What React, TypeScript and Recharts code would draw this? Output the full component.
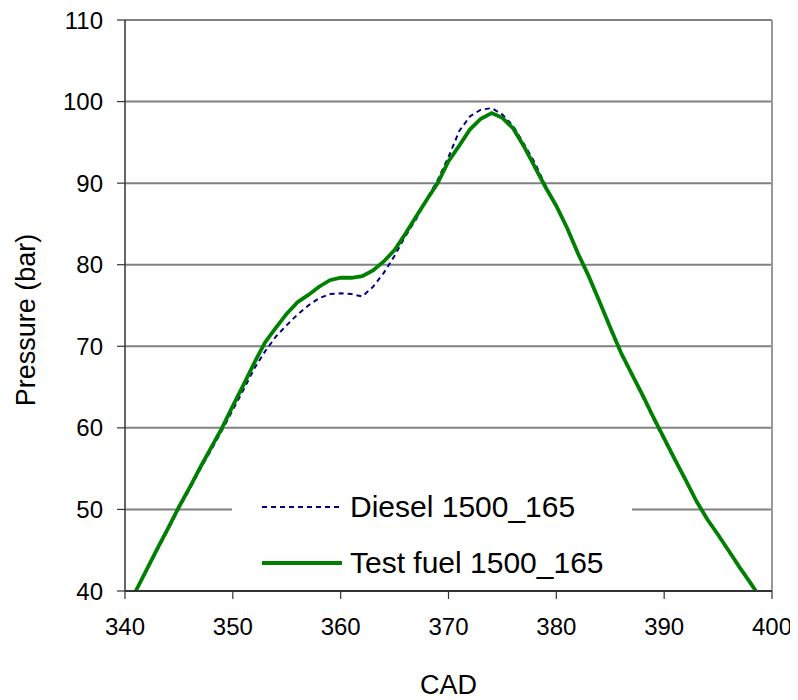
import React from "react";
import {
  CartesianGrid,
  Legend,
  Line,
  LineChart,
  ReferenceLine,
  XAxis,
  YAxis
} from "recharts";

// crank angle (deg) and cylinder pressure (bar)
const cad = [
  341, 342, 343, 344, 345, 346, 347, 348, 349, 350,
  351, 352, 353, 354, 355, 356, 357, 358, 359, 360,
  361, 362, 363, 364, 365, 366, 367, 368, 369, 370,
  371, 372, 373, 374, 375, 376, 377, 378, 379, 380,
  381, 382, 383, 384, 385, 386, 387, 388, 389, 390,
  391, 392, 393, 394, 395, 396, 397, 398, 398.5
];

const diesel = [
  40.0, 42.5, 45.0, 47.5, 50.1, 52.5, 55.0, 57.3, 59.7, 62.2,
  64.7, 67.3, 69.4, 71.2, 72.6, 73.9, 75.0, 75.9, 76.4, 76.5,
  76.4, 76.1, 77.3, 79.0, 81.1, 83.5, 85.6, 88.1, 90.4, 93.2,
  96.4, 98.2, 99.0, 99.2, 98.4, 97.0, 94.8, 92.5, 89.7, 87.2,
  84.4, 81.3, 78.5, 75.4, 72.1, 69.0, 66.5, 63.8, 61.1, 58.5,
  56.0, 53.5, 50.9, 48.7, 46.8, 44.8, 42.8, 40.9, 40.0
];

const testFuel = [
  40.0, 42.6, 45.2, 47.7, 50.3, 52.7, 55.2, 57.6, 60.0, 62.7,
  65.3, 68.0, 70.5, 72.3, 74.0, 75.4, 76.3, 77.3, 78.1, 78.4,
  78.4, 78.6, 79.3, 80.4, 81.8, 83.8, 85.9, 88.0, 90.0, 92.7,
  94.6, 96.6, 97.9, 98.6, 98.0, 96.7, 94.5, 92.0, 89.5, 87.2,
  84.5, 81.4, 78.6, 75.5, 72.3, 69.2, 66.6, 64.0, 61.3, 58.7,
  56.1, 53.6, 51.0, 48.8, 46.9, 44.9, 42.9, 41.0, 40.0
];

const xTicks = [340, 350, 360, 370, 380, 390, 400];
const yTicks = [40, 50, 60, 70, 80, 90, 100, 110];

const series = [
  { key: "diesel", name: "Diesel 1500_165", color: "#000080", width: 2, dash: "5 4" },
  { key: "testFuel", name: "Test fuel 1500_165", color: "#008000", width: 3.8, dash: undefined }
];

const data = cad.map((c, i) => ({ cad: c, diesel: diesel[i], testFuel: testFuel[i] }));

const font = "'Liberation Sans', Arial, sans-serif";

function renderLegend() {
  return (
    <div style={{ background: "#fff", width: 400, height: 110, fontFamily: font }}>
      {series.map((s, i) => (
        <div
          key={s.key}
          style={{
            position: "absolute",
            left: 30,
            top: i === 0 ? 27 - 20 : 83 - 20,
            height: 40,
            display: "flex",
            alignItems: "center",
            whiteSpace: "nowrap"
          }}
        >
          <svg width={80} height={10} style={{ display: "block" }}>
            <line
              x1={0}
              y1={5}
              x2={80}
              y2={5}
              stroke={s.color}
              strokeWidth={s.width}
              strokeDasharray={s.dash}
            />
          </svg>
          <span style={{ marginLeft: 8, fontSize: 30, color: "#000", lineHeight: "40px" }}>{s.name}</span>
        </div>
      ))}
    </div>
  );
}

function PressureLabel() {
  return (
    <text
      x={27}
      y={312}
      transform="rotate(-90 27 312)"
      textAnchor="middle"
      fontSize={27}
      fill="#000"
      fontFamily={font}
    >
      Pressure (bar)
    </text>
  );
}

export default function App() {
  return (
    <div style={{ width: 790, height: 692, fontFamily: font }}>
      <LineChart
        width={790}
        height={692}
        data={data}
        margin={{ top: 12, right: 26, bottom: 0, left: 0 }}
      >
        <CartesianGrid horizontal vertical={false} stroke="#808080" strokeWidth={2} />
        <ReferenceLine x={400} stroke="#999999" strokeWidth={2} />
        <XAxis
          type="number"
          dataKey="cad"
          domain={[340, 400]}
          ticks={xTicks}
          interval={0}
          height={109}
          tickSize={8}
          tickMargin={19}
          axisLine={{ stroke: "#333333", strokeWidth: 2 }}
          tickLine={{ stroke: "#333333", strokeWidth: 1.2 }}
          tick={{ fill: "#000", fontSize: 24, fontFamily: font }}
          label={{ value: "CAD", position: "insideBottom", offset: 6, fontSize: 27, fill: "#000", fontFamily: font }}
        />
        <YAxis
          type="number"
          domain={[40, 110]}
          ticks={yTicks}
          interval={0}
          width={117}
          tickSize={8}
          tickMargin={14}
          axisLine={{ stroke: "#333333", strokeWidth: 1.5 }}
          tickLine={{ stroke: "#333333", strokeWidth: 1.2 }}
          tick={{ fill: "#000", fontSize: 24, fontFamily: font }}
          label={() => <PressureLabel />}
        />
        {series.map((s) => (
          <Line
            key={s.key}
            type="linear"
            dataKey={s.key}
            name={s.name}
            stroke={s.color}
            strokeWidth={s.width}
            strokeDasharray={s.dash}
            dot={false}
            activeDot={false}
            isAnimationActive={false}
          />
        ))}
        <Legend
          layout="horizontal"
          verticalAlign="middle"
          align="center"
          content={renderLegend}
          wrapperStyle={{ left: 224, top: 472, width: 400, height: 110 }}
        />
      </LineChart>
    </div>
  );
}
